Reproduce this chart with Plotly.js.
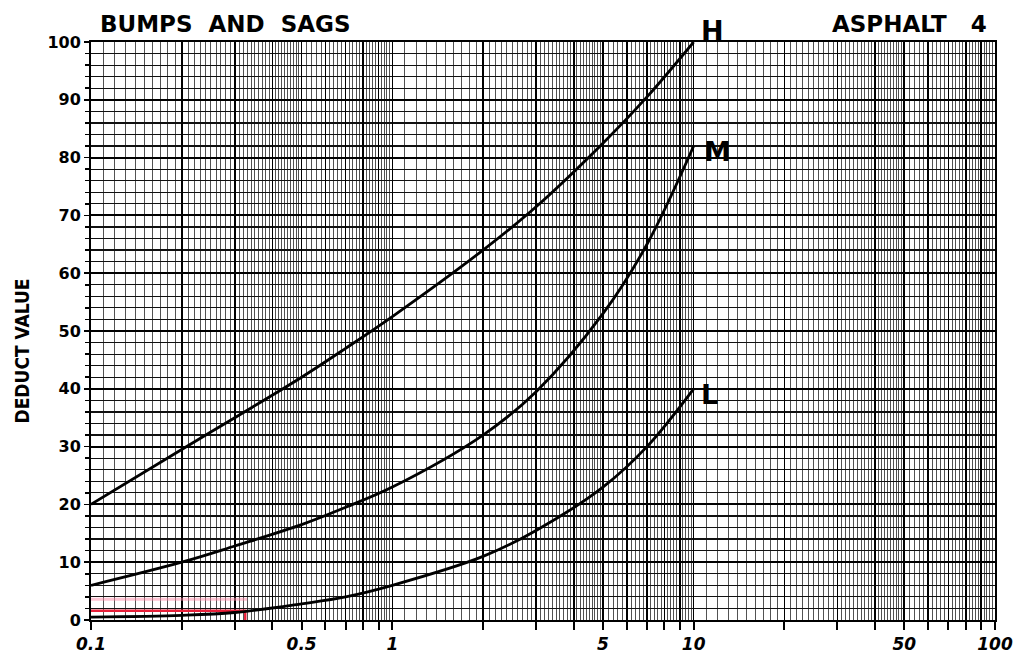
<!DOCTYPE html>
<html>
<head>
<meta charset="utf-8">
<script src="https://cdn.plot.ly/plotly-3.0.1.min.js"></script>
<style>
  html, body { margin: 0; padding: 0; background: #ffffff; }
  #chart { width: 1022px; height: 666px; }
</style>
</head>
<body>
<div id="chart"></div>
<script>
// ---- data ----
const quantity = [0.1, 0.2, 0.3, 0.5, 0.7, 1, 2, 3, 5, 7, 10];
const deductH = [20, 29.5, 35, 42, 47, 52.5, 64, 71.5, 82.5, 90.5, 100];
const deductM = [6, 10, 12.8, 16.5, 19.5, 23, 32, 39.5, 53, 65, 82];
const deductL = [0.5, 0.8, 1.3, 2.8, 4, 6, 11, 15.5, 23, 30, 40];

const exampleX = [0.1, 0.325, 0.325];
const exampleY = [1.6, 1.6, 0];
const guideX = [0.1, 0.33];
const guideY = [3.6, 3.6];

const xLabelVals = [0.1, 0.5, 1, 5, 10, 50, 100];
const xLabelText = ['0.1', '0.5', '1', '5', '10', '50', '100'];
const yLabelVals = [0, 10, 20, 30, 40, 50, 60, 70, 80, 90, 100];

const chartTitle = 'BUMPS&nbsp;&nbsp;AND&nbsp;&nbsp;SAGS';
const chartSubtitle = 'ASPHALT&nbsp;&nbsp;&nbsp;4';
const yTitle = 'DEDUCT VALUE';
const curveNames = ['H', 'M', 'L'];

// ---- log-paper grid positions ----
const decades = [0.1, 1, 10];
const majorX = [];
decades.forEach(d => { for (let m = 1; m <= 9; m++) majorX.push(+(m * d).toPrecision(6)); });
majorX.push(100);
const minorX = [];
decades.forEach(d => {
  for (let k = 1; k <= 9; k++) minorX.push(+((1 + k * 0.1) * d).toPrecision(6));
  for (let k = 1; k < 30; k++) { if (k % 10 !== 0) minorX.push(+((2 + k * 0.1) * d).toPrecision(6)); }
  for (let k = 1; k < 25; k++) { if (k % 5 !== 0) minorX.push(+((5 + k * 0.2) * d).toPrecision(6)); }
});
const majorText = majorX.map(v => {
  const i = xLabelVals.findIndex(l => Math.abs(l - v) < 1e-9);
  return i >= 0 ? xLabelText[i] : '';
});

const fontMain = 'DejaVu Sans, Liberation Sans, sans-serif';

const traces = [
  { x: guideX, y: guideY, mode: 'lines', line: { color: 'rgba(255,140,170,0.5)', width: 3 }, hoverinfo: 'skip' },
  { x: exampleX, y: exampleY, mode: 'lines', line: { color: '#e8203a', width: 2.4 }, hoverinfo: 'skip' },
  { x: quantity, y: deductH, mode: 'lines', line: { color: '#000', width: 2.8, shape: 'spline', smoothing: 1 }, name: 'H' },
  { x: quantity, y: deductM, mode: 'lines', line: { color: '#000', width: 2.8, shape: 'spline', smoothing: 1 }, name: 'M' },
  { x: quantity, y: deductL, mode: 'lines', line: { color: '#000', width: 2.8, shape: 'spline', smoothing: 1 }, name: 'L' }
];

const lastIdx = quantity.length - 1;
const lblFont = { family: fontMain, size: 27, color: '#000', weight: 'bold' };
const annotations = [
  { text: chartTitle, xref: 'paper', yref: 'paper', x: 0.008, y: 1.0, xanchor: 'left', yanchor: 'bottom', yshift: 3,
    showarrow: false, font: { family: fontMain, size: 23, color: '#000', weight: 'bold' } },
  { text: chartSubtitle, xref: 'paper', yref: 'paper', x: 0.993, y: 1.0, xanchor: 'right', yanchor: 'bottom', yshift: 3,
    showarrow: false, font: { family: fontMain, size: 23, color: '#000', weight: 'bold' } },
  { text: yTitle, xref: 'paper', yref: 'paper', x: -0.076, y: 0.465, xanchor: 'center', yanchor: 'middle', textangle: -90,
    showarrow: false, font: { family: 'DejaVu Sans Condensed, DejaVu Sans, sans-serif', size: 19, color: '#000', weight: 'bold' } },
  { text: curveNames[0], x: Math.log10(quantity[lastIdx]), y: deductH[lastIdx], xanchor: 'left', yanchor: 'middle', xshift: 5, yshift: 12,
    showarrow: false, font: lblFont },
  { text: curveNames[1], x: Math.log10(quantity[lastIdx]), y: deductM[lastIdx], xanchor: 'left', yanchor: 'middle', xshift: 8, yshift: -5,
    showarrow: false, font: lblFont },
  { text: curveNames[2], x: Math.log10(quantity[lastIdx]), y: deductL[lastIdx], xanchor: 'left', yanchor: 'middle', xshift: 5, yshift: -6,
    showarrow: false, font: lblFont }
];

const layout = {
  width: 1022, height: 666,
  margin: { l: 91, r: 27, t: 42, b: 46 },
  paper_bgcolor: '#ffffff', plot_bgcolor: '#ffffff',
  showlegend: false,
  xaxis: {
    type: 'log', range: [-1, 2],
    tickmode: 'array', tickvals: majorX, ticktext: majorText,
    ticks: 'outside', ticklen: 8, tickwidth: 2, tickcolor: '#000',
    showgrid: true, gridcolor: '#000', gridwidth: 1.6,
    minor: { tickmode: 'array', tickvals: minorX, showgrid: true, gridcolor: 'rgba(0,0,0,0.68)', gridwidth: 1, ticks: '' },
    showline: true, linecolor: '#000', linewidth: 2, mirror: true,
    zeroline: false,
    tickfont: { family: fontMain, size: 17, color: '#000', weight: 'bold', style: 'italic' },
    tickangle: 0
  },
  yaxis: {
    range: [0, 100],
    tickmode: 'array', tickvals: yLabelVals,
    ticks: 'outside', ticklen: 5, tickwidth: 1.5, tickcolor: '#000',
    showgrid: true, gridcolor: '#000', gridwidth: 2,
    minor: { dtick: 2, showgrid: true, gridcolor: '#111', gridwidth: 1.2, ticks: 'outside', ticklen: 4, tickcolor: '#000' },
    showline: true, linecolor: '#000', linewidth: 2, mirror: true,
    zeroline: false,
    tickfont: { family: fontMain, size: 16, color: '#000', weight: 'bold' }
  },
  annotations: annotations
};

Plotly.newPlot('chart', traces, layout, { staticPlot: true, displayModeBar: false });
</script>
</body>
</html>
